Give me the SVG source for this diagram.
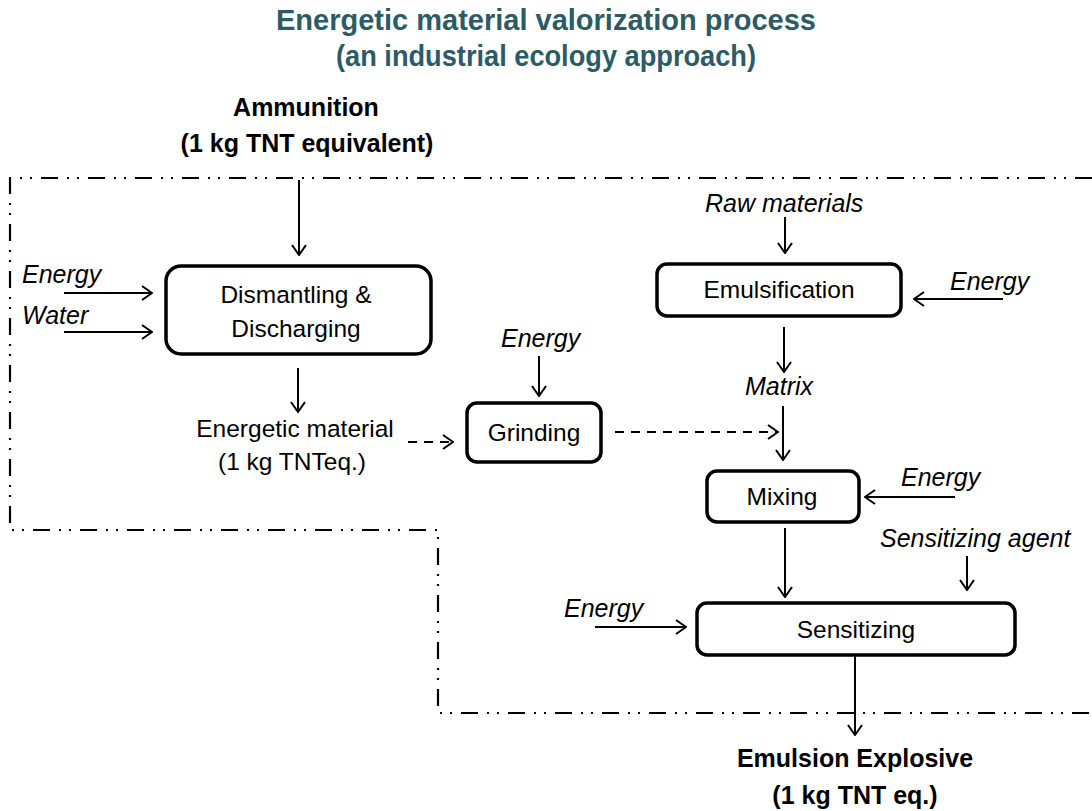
<svg xmlns="http://www.w3.org/2000/svg" width="1092" height="811" viewBox="0 0 1092 811">
<style>
  text { font-family: "Liberation Sans", Arial, sans-serif; fill: #000; }
  .title { font-size: 29px; font-weight: bold; fill: #2C5B66; text-anchor: middle; }
  .bold { font-size: 25px; font-weight: bold; text-anchor: middle; }
  .lbl { font-size: 24.5px; text-anchor: middle; }
  .it { font-size: 25px; font-style: italic; }
  .box { fill: #fff; stroke: #000; stroke-width: 3.5; }
  .arr { stroke: #000; stroke-width: 2; fill: none; marker-end: url(#ah); }
  .dash { stroke-dasharray: 9 7; }
  .bound { stroke: #000; stroke-width: 2.2; fill: none; stroke-dasharray: 17 9 2 8 2 9; }
</style>
<defs>
  <marker id="ah" viewBox="0 0 12 16" refX="11" refY="8" markerWidth="12" markerHeight="16" markerUnits="userSpaceOnUse" orient="auto">
    <path d="M1,1 L11,8 L1,15" fill="none" stroke="#000" stroke-width="2"/>
  </marker>
</defs>
<rect width="1092" height="811" fill="#fff"/>

<g id="title">
  <text class="title" x="546" y="30" textLength="540" lengthAdjust="spacingAndGlyphs">Energetic material valorization process</text>
  <text class="title" x="546" y="66" textLength="420" lengthAdjust="spacingAndGlyphs">(an industrial ecology approach)</text>
</g>

<g id="boundary">
  <path class="bound" d="M1092,178 H10 V530 H438 V713 H1092"/>
</g>

<g id="ammunition">
  <text class="bold" x="306" y="116">Ammunition</text>
  <text class="bold" x="307" y="152">(1 kg TNT equivalent)</text>
</g>

<g id="dismantling">
  <rect class="box" x="166" y="266" width="265" height="88" rx="15"/>
  <text class="lbl" x="296" y="303">Dismantling &amp;</text>
  <text class="lbl" x="296" y="337">Discharging</text>
</g>

<g id="energetic-material">
  <text class="lbl" x="295" y="437">Energetic material</text>
  <text class="lbl" x="292" y="470">(1 kg TNTeq.)</text>
</g>

<g id="grinding">
  <rect class="box" x="467" y="403" width="134" height="59" rx="10"/>
  <text class="lbl" x="534" y="441">Grinding</text>
</g>

<g id="emulsification">
  <rect class="box" x="657" y="264" width="244" height="52" rx="10"/>
  <text class="lbl" x="779" y="298">Emulsification</text>
</g>

<g id="mixing">
  <rect class="box" x="707" y="471" width="152" height="51" rx="10"/>
  <text class="lbl" x="782" y="505">Mixing</text>
</g>

<g id="sensitizing">
  <rect class="box" x="697" y="603" width="318" height="52" rx="10"/>
  <text class="lbl" x="856" y="638">Sensitizing</text>
</g>

<g id="emulsion-explosive">
  <text class="bold" x="855" y="767">Emulsion Explosive</text>
  <text class="bold" x="855" y="804">(1 kg TNT eq.)</text>
</g>

<g id="input-labels">
  <text class="it" x="22" y="283">Energy</text>
  <text class="it" x="22" y="324">Water</text>
  <text class="it" x="501" y="347">Energy</text>
  <text class="it" x="705" y="212">Raw materials</text>
  <text class="it" x="950" y="290">Energy</text>
  <text class="it" x="745" y="395">Matrix</text>
  <text class="it" x="901" y="486">Energy</text>
  <text class="it" x="880" y="547">Sensitizing agent</text>
  <text class="it" x="564" y="617">Energy</text>
</g>

<g id="connectors">
  <line class="arr" x1="299" y1="180" x2="299" y2="255"/>
  <line class="arr" x1="64" y1="293" x2="152" y2="293"/>
  <line class="arr" x1="64" y1="332" x2="152" y2="332"/>
  <line class="arr" x1="298" y1="368" x2="298" y2="412"/>
  <line class="arr dash" x1="408" y1="442" x2="453" y2="442"/>
  <line class="arr" x1="539" y1="356" x2="539" y2="396"/>
  <line class="arr dash" x1="615" y1="432" x2="778" y2="432"/>
  <line class="arr" x1="785" y1="217" x2="785" y2="253"/>
  <line class="arr" x1="1003" y1="299" x2="914" y2="299"/>
  <line class="arr" x1="784" y1="327" x2="784" y2="372"/>
  <line class="arr" x1="783" y1="406" x2="783" y2="460"/>
  <line class="arr" x1="955" y1="497" x2="865" y2="497"/>
  <line class="arr" x1="785" y1="528" x2="785" y2="597"/>
  <line class="arr" x1="967" y1="556" x2="967" y2="590"/>
  <line class="arr" x1="595" y1="627" x2="686" y2="627"/>
  <line class="arr" x1="855" y1="655" x2="855" y2="735"/>
</g>
</svg>
